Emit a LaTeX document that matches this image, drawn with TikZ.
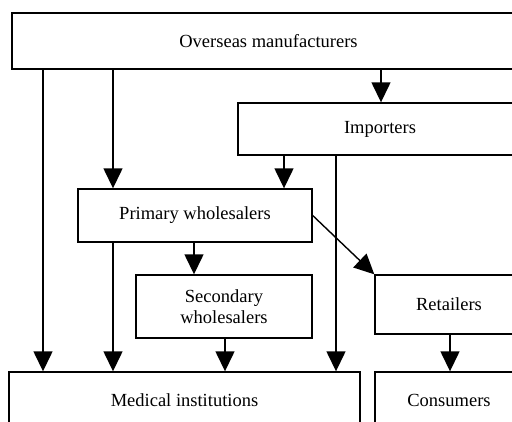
\documentclass[tikz,border=0pt]{standalone}
\usepackage{fontspec}
\setmainfont{Liberation Serif}
\usetikzlibrary{arrows.meta,calc}
\begin{document}
\begin{tikzpicture}[x=1pt,y=-1pt,
  box/.style={draw=black,line width=1.4pt,rectangle,inner sep=0pt,align=center,
    font=\fontsize{18.5}{21}\selectfont},
  arr/.style={draw=black,line width=1.4pt,-{Triangle[length=20pt,width=19pt]}}]
\useasboundingbox (0,0) rectangle (512,421);
\clip (0,0) rectangle (512,421);
% boxes
\node[box,minimum width=513pt,minimum height=56pt] (over) at (268.5,41) {Overseas manufacturers};
\node[box,minimum width=284pt,minimum height=52pt] (imp) at (380,129) {Importers};
\node[box,minimum width=234pt,minimum height=53pt] (prim) at (195,215.5) {Primary wholesalers};
\node[box,minimum width=176pt,minimum height=63pt] (sec) at (224,306.5) {Secondary\\wholesalers};
\node[box,minimum width=148pt,minimum height=59pt] (ret) at (449,304.5) {Retailers};
\node[box,minimum width=351pt,minimum height=56pt] (med) at (184.5,400) {Medical institutions};
\node[box,minimum width=148pt,minimum height=56pt] (con) at (449,400) {Consumers};
% column coordinates
\coordinate (c43) at (43,0);
\coordinate (c113) at (113,0);
\coordinate (c194) at (194,0);
\coordinate (c225) at (225,0);
\coordinate (c284) at (284,0);
\coordinate (c336) at (336,0);
\coordinate (c381) at (381,0);
\coordinate (c450) at (450,0);
% connectors
\draw[arr] (over.south -| c381) -- (imp.north -| c381);
\draw[arr] (over.south -| c43) -- (med.north -| c43);
\draw[arr] (over.south -| c113) -- (prim.north -| c113);
\draw[arr] (imp.south -| c284) -- (prim.north -| c284);
\draw[arr] (imp.south -| c336) -- (med.north -| c336);
\draw[arr] (prim.south -| c113) -- (med.north -| c113);
\draw[arr] (prim.south -| c194) -- (sec.north -| c194);
\draw[arr] (sec.south -| c225) -- (med.north -| c225);
\draw[arr] (prim.east) -- (ret.north west);
\draw[arr] (ret.south -| c450) -- (con.north -| c450);
\end{tikzpicture}
\end{document}
